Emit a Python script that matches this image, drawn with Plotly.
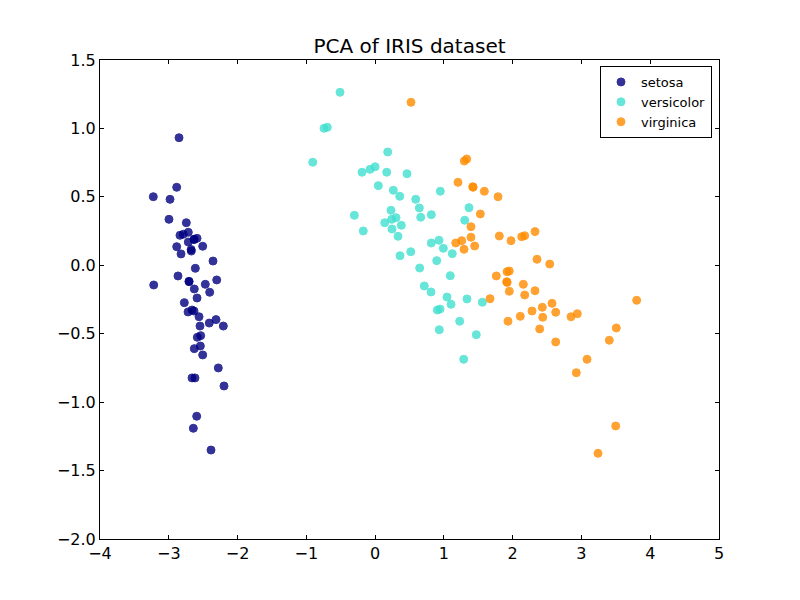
import plotly.graph_objects as go

target_names = ["setosa", "versicolor", "virginica"]
colors = ["navy", "turquoise", "darkorange"]

setosa_pc1 = [-2.851, -2.885, -3.225, -2.982, -2.997, -2.745, -2.837, -2.789, -2.716, -2.633,
              -2.589, -2.716, -2.507, -2.885, -2.822, -2.672, -2.675, -2.357, -2.614, -2.866,
              -3.219, -2.706, -2.469, -2.303, -2.629, -2.405, -2.589, -2.774, -2.720, -2.662,
              -2.633, -2.560, -2.546, -2.411, -2.313, -2.207, -2.536, -2.585, -2.629, -2.541,
              -2.507, -2.280, -2.662, -2.619, -2.197, -2.594, -2.643, -2.386, -2.705, -2.632]
setosa_pc2 = [0.932, 0.570, 0.501, 0.482, 0.336, 0.311, 0.219, 0.227, 0.241, 0.190,
              0.197, 0.170, 0.139, 0.136, 0.083, 0.104, 0.115, 0.031, -0.022, -0.078,
              -0.144, -0.117, -0.139, -0.107, -0.173, -0.197, -0.239, -0.273, -0.341, -0.327,
              -0.334, -0.376, -0.444, -0.422, -0.397, -0.444, -0.514, -0.526, -0.609, -0.590,
              -0.655, -0.750, -0.823, -0.823, -0.882, -1.103, -1.191, -1.350, -0.120, 0.188]

versicolor_pc1 = [-0.510, -0.743, -0.695, -0.907, 0.183, -0.190, -0.074, 0.000, 0.169, 0.464,
                  0.047, 0.265, 0.948, 0.358, 0.590, -0.302, 0.231, 0.643, 0.663, 0.817,
                  0.140, 0.241, 0.304, 0.381, -0.172, 0.246, 0.333, 1.365, 1.303, 0.817,
                  0.929, 0.992, 1.122, 0.362, 0.518, 0.896, 0.648, 1.093, 0.715, 0.813,
                  1.045, 1.104, 1.336, 1.559, 0.904, 0.944, 1.230, 0.933, 1.471, 1.288]
versicolor_pc2 = [1.264, 1.001, 1.008, 0.753, 0.828, 0.680, 0.701, 0.720, 0.680, 0.669,
                  0.582, 0.548, 0.541, 0.504, 0.482, 0.365, 0.402, 0.419, 0.351, 0.370,
                  0.311, 0.336, 0.348, 0.292, 0.251, 0.265, 0.212, 0.421, 0.329, 0.163,
                  0.183, 0.124, 0.085, 0.070, 0.099, 0.034, -0.020, -0.076, -0.151, -0.195,
                  -0.232, -0.285, -0.246, -0.270, -0.327, -0.320, -0.409, -0.471, -0.507, -0.687]

virginica_pc1 = [0.522, 1.297, 1.332, 1.205, 1.419, 1.425, 1.588, 1.787, 1.530, 1.394,
                 1.394, 1.259, 1.172, 1.293, 1.448, 1.806, 1.976, 2.131, 2.175, 2.325,
                 2.354, 2.539, 1.762, 1.918, 1.951, 1.913, 1.920, 2.155, 1.951, 2.175,
                 2.325, 1.671, 3.803, 2.572, 2.281, 2.431, 2.626, 2.437, 2.111, 1.932,
                 2.848, 2.940, 2.393, 3.507, 2.626, 3.405, 3.081, 2.925, 3.498, 3.241]
virginica_pc2 = [1.191, 0.762, 0.777, 0.606, 0.574, 0.570, 0.541, 0.501, 0.375, 0.282,
                 0.205, 0.180, 0.163, 0.117, 0.141, 0.214, 0.180, 0.209, 0.216, 0.246,
                 0.044, 0.009, -0.078, -0.047, -0.042, -0.120, -0.125, -0.139, -0.190, -0.217,
                 -0.186, -0.244, -0.256, -0.278, -0.334, -0.307, -0.343, -0.380, -0.373, -0.409,
                 -0.376, -0.354, -0.465, -0.458, -0.560, -0.548, -0.687, -0.785, -1.174, -1.374]

xs = [setosa_pc1, versicolor_pc1, virginica_pc1]
ys = [setosa_pc2, versicolor_pc2, virginica_pc2]

fig = go.Figure()
for name, color, x, y in zip(target_names, colors, xs, ys):
    fig.add_trace(go.Scatter(
        x=x, y=y, mode="markers", name=name,
        marker=dict(color=color, size=8, opacity=0.8, line=dict(color=color, width=1)),
    ))

font = "DejaVu Sans"
axis_common = dict(
    showgrid=False, zeroline=False, showline=True, linecolor="black", linewidth=1,
    mirror="ticks", ticks="inside", ticklen=4, tickcolor="black",
    tickfont=dict(family=font, size=16, color="black"),
)
fig.update_xaxes(range=[-4, 5], dtick=1, tick0=-4, **axis_common)
fig.update_yaxes(range=[-2.0, 1.5], dtick=0.5, tick0=-2, tickformat=".1f", **axis_common)

fig.update_layout(
    width=800, height=600,
    margin=dict(l=92, r=89, t=52, b=69),
    paper_bgcolor="white", plot_bgcolor="white",
    title=dict(text="PCA of IRIS dataset", x=401.5 / 800, xanchor="center",
               y=1 - 38 / 600, yanchor="middle", yref="container",
               font=dict(family=font, size=20, color="black")),
    legend=dict(x=0.9887, y=0.9875, xanchor="right", yanchor="top",
                bordercolor="black", borderwidth=1, bgcolor="white",
                font=dict(family=font, size=13, color="black"),
                tracegroupgap=0),
    showlegend=True,
)

fig.write_html("out.html")
